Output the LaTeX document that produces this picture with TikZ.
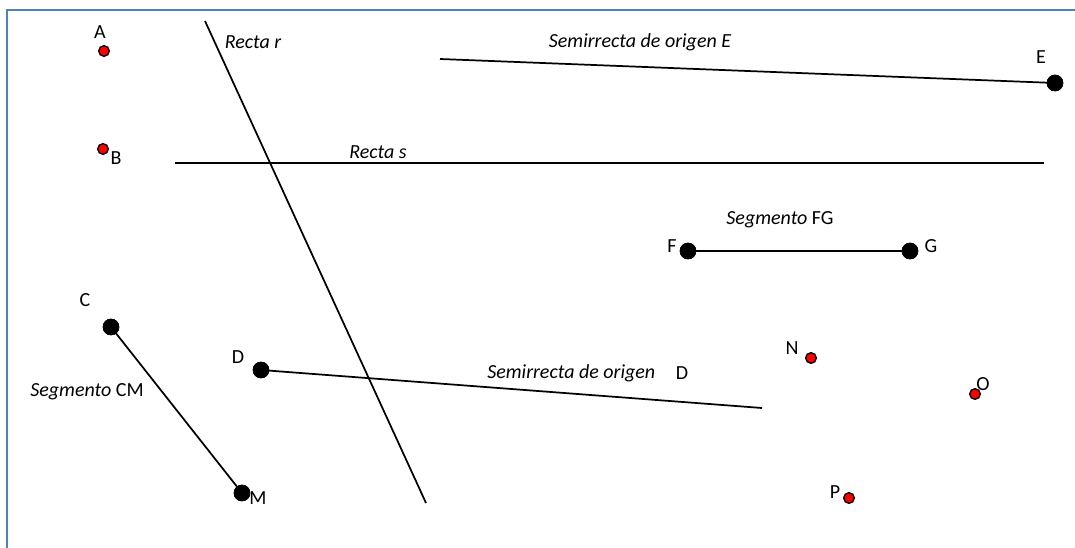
\documentclass[tikz,border=0pt]{standalone}
\usepackage{fontspec}
\setmainfont{Carlito}
\begin{document}
\begin{tikzpicture}[x=0.75pt,y=-0.75pt,
  redpt/.style={circle,fill=red,draw=black,line width=1pt,inner sep=0pt,minimum size=8pt},
  blackpt/.style={circle,fill=black,draw=black,inner sep=0pt,minimum size=12pt},
  lbl/.style={inner sep=0pt,font=\fontsize{15}{17}\selectfont},
  geo/.style={line width=1.3pt,black},
  frame/.style={line width=1.6pt,draw={rgb,255:red,79;green,129;blue,189}}]
\useasboundingbox (0,0) rectangle (1075,548);
\begin{scope}
\clip (0,0) rectangle (1075,548);
\draw[frame] (7,560) -- (7,10) -- (1090,10);
\end{scope}
% coordinates
\coordinate (r1) at (205,21);
\coordinate (r2) at (426,503);
\coordinate (s1) at (175,163);
\coordinate (s2) at (1044,163);
\coordinate (e0) at (440,59);
\coordinate (d0) at (762,408);
% lines
\draw[geo] (r1) -- (r2);
\draw[geo] (s1) -- (s2);
% points
\node[redpt] (A) at (104,51) {};
\node[redpt] (B) at (103,149) {};
\node[redpt] (N) at (811,358) {};
\node[redpt] (O) at (975,394) {};
\node[redpt] (P) at (849,498) {};
\node[blackpt] (E) at (1055,83) {};
\node[blackpt] (F) at (688,251) {};
\node[blackpt] (G) at (910,251) {};
\node[blackpt] (C) at (111,327) {};
\node[blackpt] (M) at (242,493) {};
\node[blackpt] (D) at (261,370) {};
% segments and rays
\draw[geo] (e0) -- (E.center);
\draw[geo] (F.center) -- (G.center);
\draw[geo] (C.center) -- (M.center);
\draw[geo] (D.center) -- (d0);
\node[blackpt] at (E) {};
\node[blackpt] at (F) {};
\node[blackpt] at (G) {};
\node[blackpt] at (C) {};
\node[blackpt] at (M) {};
\node[blackpt] at (D) {};
% labels
\node[lbl] (lA) at (100,32) {A};
\node[lbl] (lB) at (116,158) {B};
\node[lbl] (lC) at (85,300) {C};
\node[lbl] (lM) at (258,498) {M};
\node[lbl] (lD) at (238,357) {D};
\node[lbl] (lE) at (1041,57) {E};
\node[lbl] (lF) at (672,246) {F};
\node[lbl] (lG) at (931,246) {G};
\node[lbl] (lN) at (792,348) {N};
\node[lbl] (lO) at (983,384) {O};
\node[lbl] (lP) at (835,492) {P};
\node[lbl] (tr) at (253,42) {\itshape Recta r};
\node[lbl] (ts) at (378,152) {\itshape Recta s};
\node[lbl] (tE) at (640,42) {\itshape Semirrecta de origen E};
\node[lbl] (tFG) at (780,220) {\itshape Segmento\/\upshape\ FG};
\node[lbl] (tCM) at (87,392) {\itshape Segmento\/\upshape\ CM};
\node[lbl,anchor=west] (tD) at (487,373) {\itshape Semirrecta de origen};
\node[lbl] (tD2) at (682,373) {D};
\end{tikzpicture}
\end{document}
